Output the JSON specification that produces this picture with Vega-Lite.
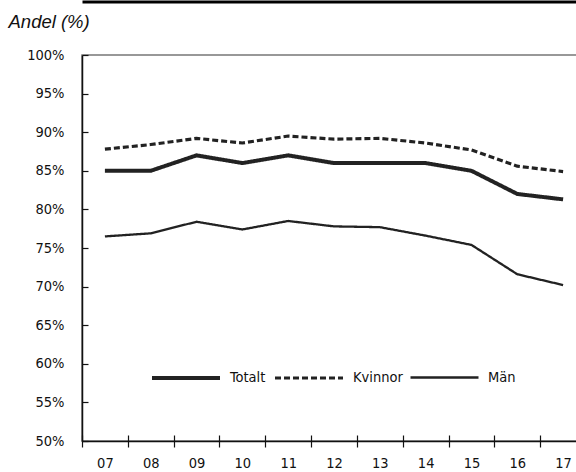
{
  "$schema": "https://vega.github.io/schema/vega-lite/v6.json",
  "autosize": "none",
  "width": 504,
  "height": 386,
  "padding": {"left": 82, "top": 55, "right": 0, "bottom": 31},
  "background": "white",
  "config": {
    "view": {"stroke": "#777", "strokeWidth": 1.5},
    "font": "DejaVu Sans Condensed, Liberation Sans",
    "axis": {"labelFont": "DejaVu Sans Condensed, Liberation Sans", "labelColor": "#111", "labelFontSize": 14.5, "domainColor": "#111", "tickColor": "#111", "grid": false}
  },
  "data": {
    "values": [
      {"series": "Totalt", "year": "07", "value": 85.0},
      {"series": "Totalt", "year": "08", "value": 85.0},
      {"series": "Totalt", "year": "09", "value": 87.0},
      {"series": "Totalt", "year": "10", "value": 86.0},
      {"series": "Totalt", "year": "11", "value": 87.0},
      {"series": "Totalt", "year": "12", "value": 86.0},
      {"series": "Totalt", "year": "13", "value": 86.0},
      {"series": "Totalt", "year": "14", "value": 86.0},
      {"series": "Totalt", "year": "15", "value": 85.0},
      {"series": "Totalt", "year": "16", "value": 82.0},
      {"series": "Totalt", "year": "17", "value": 81.3},
      {"series": "Kvinnor", "year": "07", "value": 87.8},
      {"series": "Kvinnor", "year": "08", "value": 88.4},
      {"series": "Kvinnor", "year": "09", "value": 89.2},
      {"series": "Kvinnor", "year": "10", "value": 88.6},
      {"series": "Kvinnor", "year": "11", "value": 89.5},
      {"series": "Kvinnor", "year": "12", "value": 89.1},
      {"series": "Kvinnor", "year": "13", "value": 89.2},
      {"series": "Kvinnor", "year": "14", "value": 88.6},
      {"series": "Kvinnor", "year": "15", "value": 87.7},
      {"series": "Kvinnor", "year": "16", "value": 85.6},
      {"series": "Kvinnor", "year": "17", "value": 84.9},
      {"series": "Män", "year": "07", "value": 76.5},
      {"series": "Män", "year": "08", "value": 76.9},
      {"series": "Män", "year": "09", "value": 78.4},
      {"series": "Män", "year": "10", "value": 77.4},
      {"series": "Män", "year": "11", "value": 78.5},
      {"series": "Män", "year": "12", "value": 77.8},
      {"series": "Män", "year": "13", "value": 77.7},
      {"series": "Män", "year": "14", "value": 76.6},
      {"series": "Män", "year": "15", "value": 75.4},
      {"series": "Män", "year": "16", "value": 71.6},
      {"series": "Män", "year": "17", "value": 70.2}
    ]
  },
  "layer": [
    {
      "mark": {"type": "line", "color": "#222", "strokeCap": "butt", "strokeJoin": "miter"},
      "encoding": {
        "x": {
          "field": "year", "type": "ordinal", "bandPosition": 0.5,
          "scale": {"type": "band", "paddingInner": 0, "paddingOuter": 0},
          "axis": {"orient": "bottom", "title": null, "labelAngle": 0, "tickSize": 6, "tickBand": "extent", "labelPadding": 9, "domainWidth": 1.5, "tickWidth": 1.2}
        },
        "y": {
          "field": "value", "type": "quantitative",
          "scale": {"domain": [50, 100], "nice": false, "zero": false},
          "axis": {
            "values": [50, 55, 60, 65, 70, 75, 80, 85, 90, 95, 100],
            "labelExpr": "datum.value + '%'",
            "tickSize": -6, "labelPadding": 24, "domainWidth": 1.5, "tickWidth": 1.2,
            "title": "Andel (%)", "titleAngle": 0, "titleFont": "Liberation Sans", "titleFontStyle": "italic", "titleFontWeight": "normal", "titleFontSize": 18.5, "titleColor": "#111",
            "titleAlign": "left", "titleBaseline": "middle", "titleX": -74, "titleY": -34
          }
        },
        "detail": {"field": "series"},
        "strokeDash": {
          "field": "series", "type": "nominal",
          "scale": {"domain": ["Totalt", "Kvinnor", "Män"], "range": [[1, 0], [6, 3], [1, 0]]},
          "legend": {"orient": "none", "legendX": 68, "legendY": 287, "direction": "horizontal", "gridAlign": "none", "title": null, "symbolType": "stroke", "symbolSize": 4624, "symbolStrokeColor": "#222", "labelFont": "DejaVu Sans Condensed, Liberation Sans", "labelFontSize": 14.5, "labelColor": "#111", "labelOffset": 8, "columnPadding": 2}
        },
        "strokeWidth": {
          "field": "series", "type": "nominal",
          "scale": {"domain": ["Totalt", "Kvinnor", "Män"], "range": [4, 2.3, 2.3]},
          "legend": {"orient": "none", "legendX": 68, "legendY": 287, "direction": "horizontal", "gridAlign": "none", "title": null, "symbolType": "stroke", "symbolSize": 4624, "symbolStrokeColor": "#222", "labelFont": "DejaVu Sans Condensed, Liberation Sans", "labelFontSize": 14.5, "labelColor": "#111", "labelOffset": 8, "columnPadding": 2}
        }
      }
    },
    {
      "mark": {"type": "rule", "opacity": 0},
      "encoding": {
        "x": {
          "field": "year", "type": "ordinal", "bandPosition": 0.5,
          "axis": {"orient": "bottom", "offset": -6, "title": null, "domain": false, "labels": false, "tickSize": 6, "tickBand": "extent", "tickWidth": 1.2}
        }
      }
    },
    {
      "mark": {"type": "rule", "opacity": 0},
      "encoding": {
        "x": {
          "field": "year", "type": "ordinal", "bandPosition": 0.5,
          "axis": {"orient": "top", "offset": 53.5, "title": null, "domain": true, "domainWidth": 3, "domainColor": "#000", "labels": false, "ticks": false}
        }
      }
    }
  ],
  "resolve": {"axis": {"x": "independent"}, "scale": {"x": "shared"}}
}
